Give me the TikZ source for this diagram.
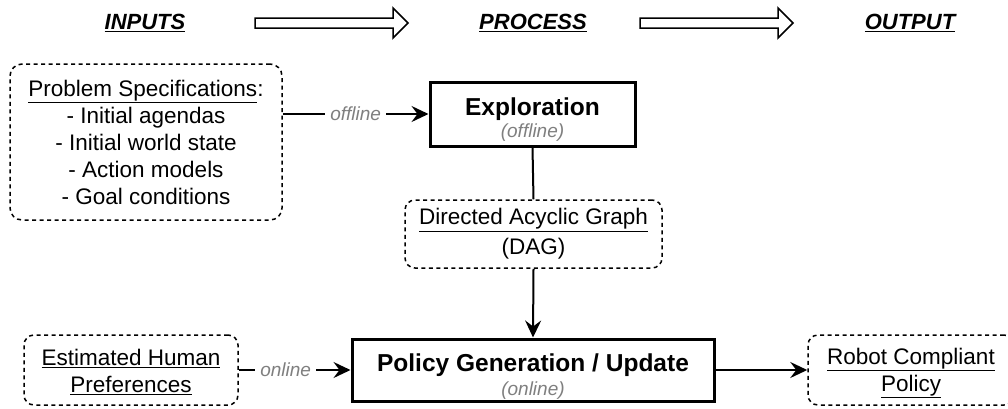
\documentclass[tikz,border=0pt]{standalone}
\usepackage{fontspec}
\setmainfont{Liberation Sans}
\usetikzlibrary{arrows.meta}
\definecolor{labelgrey}{HTML}{7F7F7F}
\tikzset{
  dashbox/.style={draw, line width=1.5pt, dash pattern=on 4pt off 3.5pt, rounded corners=12pt,
    align=center, inner sep=0pt, font=\fontsize{22.5}{27}\selectfont},
  procbox/.style={draw, line width=3pt, align=center, inner sep=0pt, font=\fontsize{24.5}{25}\selectfont},
  header/.style={font=\fontsize{22}{26}\selectfont\bfseries\itshape},
  modelabel/.style={fill=white, text=labelgrey, inner sep=5pt, font=\fontsize{19}{22}\selectfont\itshape},
  flow/.style={line width=2pt, -{Stealth[length=17pt,width=16pt,inset=6pt]}},
  bigarrow/.style={line width=1.5pt, line join=miter},
}
\newcommand{\modetext}[1]{{\fontsize{19}{22}\selectfont\itshape\color{labelgrey}#1}}
\begin{document}
\begin{tikzpicture}[x=1pt, y=-1pt]
\useasboundingbox (0,0) rectangle (1008,408);
\clip (0,0) rectangle (1008,408);
% column headers
\node[header] (inputs) at (145,23) {\underline{INPUTS}};
\node[header] (process) at (533,23) {\underline{PROCESS}};
\node[header] (output) at (910,23) {\underline{OUTPUT}};
% hollow arrows between the headers
\coordinate (a1) at (255,23);
\coordinate (a2) at (640,23);
\foreach \a in {a1,a2}
  \draw[bigarrow] (\a) ++(0,-5) -- ++(138,0) -- ++(0,-10) -- ++(15,15) -- ++(-15,15) -- ++(0,-10) -- ++(-138,0) -- cycle;
% boxes
\node[dashbox, minimum width=272, minimum height=156] (spec) at (146,142)
  {\underline{Problem Specifications}:\\- Initial agendas\\- Initial world state\\- Action models\\- Goal conditions};
\node[procbox, minimum width=205, minimum height=64] (explore) at (532.5,114)
  {\rule{0pt}{28pt}\textbf{Exploration}\\[-3pt]\modetext{(offline)}};
\node[dashbox, minimum width=257, minimum height=68, rounded corners=10pt] (dag) at (533.5,234)
  {\underline{Directed Acyclic Graph}\\[3pt](DAG)};
\node[procbox, minimum width=362, minimum height=62] (policy) at (533,370)
  {\rule{0pt}{30pt}\textbf{Policy Generation / Update}\\[-1pt]\modetext{(online)}};
\node[dashbox, minimum width=214, minimum height=70, rounded corners=10pt] (prefs) at (131,370)
  {\rule{0pt}{20pt}\underline{Estimated Human}\\\underline{Preferences}};
\node[dashbox, minimum width=206, minimum height=70, rounded corners=10pt] (robot) at (911,370)
  {\rule{0pt}{22pt}\underline{Robot Compliant}\\\underline{Policy}};
% connectors
\draw[flow] (spec.east |- explore) -- node[modelabel] {offline} (explore.west);
\draw[line width=2pt] (explore.south) -- (dag.north);
\draw[flow] (dag.south) -- (policy.north);
\draw[flow] (prefs.east |- policy) -- node[modelabel, pos=0.42] {online} (policy.west);
\draw[flow] (policy.east) -- (robot.west);
\end{tikzpicture}
\end{document}
